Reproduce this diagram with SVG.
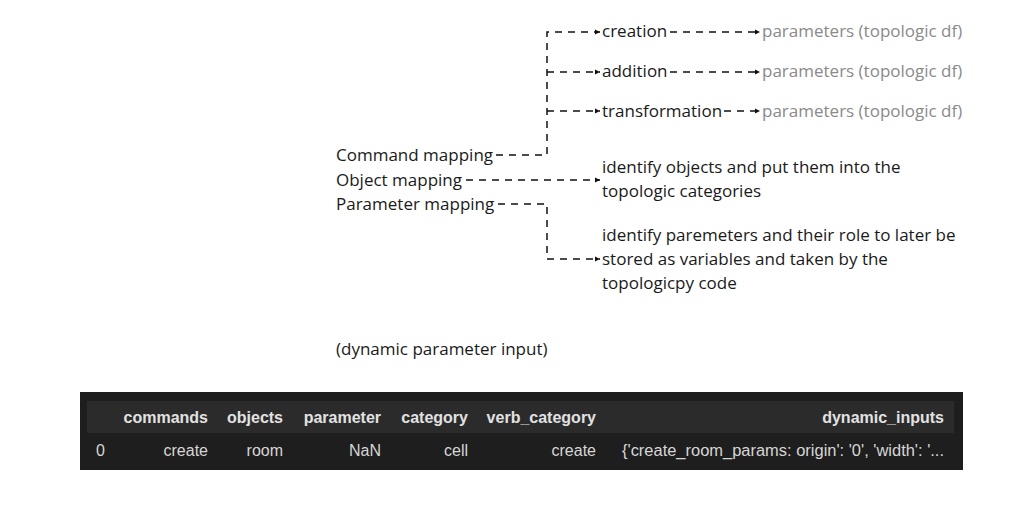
<svg xmlns="http://www.w3.org/2000/svg" width="1024" height="522" viewBox="0 0 1024 522">
<style>
.t{font-family:"Open Sans","DejaVu Sans",sans-serif;font-size:17px;fill:#1a1a1a}
.g{fill:#8a8a8a}
.c{fill:none;stroke:#111;stroke-width:1.5;stroke-dasharray:7 6}
.h{font-family:"Liberation Sans",Arial,sans-serif;font-size:16px;font-weight:bold;fill:#e2e2e2;text-anchor:end}
.d{font-family:"Liberation Sans",Arial,sans-serif;font-size:16px;fill:#d6d6d6;text-anchor:end}
</style>
<defs>
<marker id="ah" markerWidth="6" markerHeight="6" refX="5" refY="3" orient="auto" markerUnits="userSpaceOnUse">
<path d="M0,0.5 L5,3 L0,5.5 Z" fill="#111"/>
</marker>
</defs>
<rect width="1024" height="522" fill="#ffffff"/>
<g id="connectors">
<path class="c" d="M496,155 H547 V32 H600" marker-end="url(#ah)"/>
<path class="c" d="M547,72 H600" marker-end="url(#ah)"/>
<path class="c" d="M547,111 H600" marker-end="url(#ah)"/>
<path class="c" d="M670,32 H760" marker-end="url(#ah)"/>
<path class="c" d="M670,72 H760" marker-end="url(#ah)"/>
<path class="c" d="M724,111 H760" marker-end="url(#ah)"/>
<path class="c" d="M466,180 H600" marker-end="url(#ah)"/>
<path class="c" d="M498,204 H547 V259 H600" marker-end="url(#ah)"/>
</g>
<g id="command-mapping"><text class="t" x="336" y="161">Command mapping</text></g>
<g id="object-mapping"><text class="t" x="336" y="186">Object mapping</text></g>
<g id="parameter-mapping"><text class="t" x="336" y="210">Parameter mapping</text></g>
<g id="creation"><text class="t" x="602" y="37">creation</text></g>
<g id="addition"><text class="t" x="602" y="77">addition</text></g>
<g id="transformation"><text class="t" x="602" y="117">transformation</text></g>
<g id="params1"><text class="t g" x="762" y="37">parameters (topologic df)</text></g>
<g id="params2"><text class="t g" x="762" y="77">parameters (topologic df)</text></g>
<g id="params3"><text class="t g" x="762" y="117">parameters (topologic df)</text></g>
<g id="identify-objects">
<text class="t" x="602" y="173">identify objects and put them into the</text>
<text class="t" x="602" y="197">topologic categories</text>
</g>
<g id="identify-params">
<text class="t" x="602" y="241">identify paremeters and their role to later be</text>
<text class="t" x="602" y="265">stored as variables and taken by the</text>
<text class="t" x="602" y="289">topologicpy code</text>
</g>
<g id="dynamic-label"><text class="t" x="336" y="355">(dynamic parameter input)</text></g>
<g id="table">
<rect x="80" y="392" width="883" height="78" fill="#1e1e1e"/>
<rect x="87" y="401" width="867" height="32" fill="#2b2b2b"/>
<text class="h" x="208" y="423">commands</text>
<text class="h" x="283" y="423">objects</text>
<text class="h" x="381" y="423">parameter</text>
<text class="h" x="468" y="423">category</text>
<text class="h" x="596" y="423">verb_category</text>
<text class="h" x="944" y="423">dynamic_inputs</text>
<text class="d" x="105" y="456">0</text>
<text class="d" x="208" y="456">create</text>
<text class="d" x="283" y="456">room</text>
<text class="d" x="381" y="456">NaN</text>
<text class="d" x="468" y="456">cell</text>
<text class="d" x="596" y="456">create</text>
<text class="d" x="944" y="456" textLength="322" lengthAdjust="spacingAndGlyphs">{'create_room_params: origin': '0', 'width': '...</text>
</g>
</svg>
